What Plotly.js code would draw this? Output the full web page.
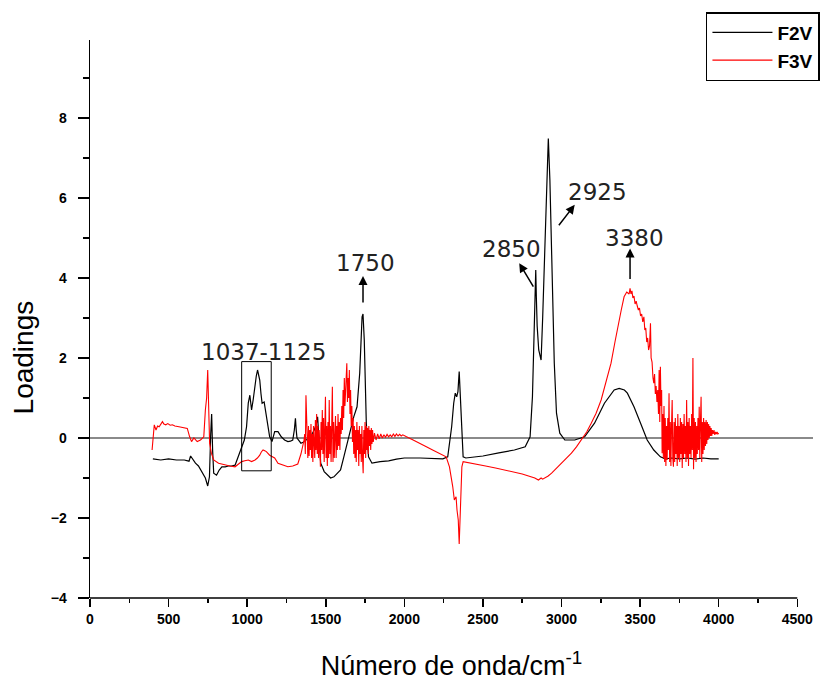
<!DOCTYPE html>
<html>
<head>
<meta charset="utf-8">
<script src="https://cdn.plot.ly/plotly-3.0.1.min.js"></script>
<style>html,body{margin:0;padding:0;background:#fff;}#chart{width:831px;height:683px;}</style>
</head>
<body>
<div id="chart"></div>
<script>
// F2V (black) wavenumber / loadings
const f2vX = [400,450,500,550,600,630,640,655,671,690,703,720,734,749,760,768,774,780,787,805,822,839,860,881,900,923,944,955,969,982,996,1007,1017,1028,1038,1049,1058,1066,1073,1080,1088,1095,1108,1115,1122,1132,1143,1158,1175,1196,1217,1238,1259,1275,1290,1300,1307,1312,1317,1342,1360,1374,1390,1405,1427,1440,1448,1455,1468,1490,1510,1531,1552,1573,1594,1615,1636,1657,1678,1699,1716,1731,1737,1745,1758,1772,1794,1846,1900,1950,2000,2100,2200,2245,2276,2287,2301,2314,2324,2333,2341,2349,2358,2366,2374,2391,2500,2601,2700,2769,2800,2815,2828,2836,2840,2845,2855,2870,2880,2891,2905,2916,2926,2937,2954,2968,2989,3021,3084,3147,3210,3273,3335,3367,3400,3419,3461,3503,3545,3587,3629,3660,3700,3750,3800,3850,3900,3950,4000];
const f2vY = [-0.52,-0.55,-0.52,-0.55,-0.55,-0.58,-0.45,-0.55,-0.63,-0.7,-0.8,-0.9,-1.0,-1.2,-0.97,0.1,0.6,-0.3,-0.88,-0.93,-0.8,-0.72,-0.72,-0.7,-0.7,-0.68,-0.47,-0.34,-0.22,-0.05,0.28,0.87,1.07,0.7,0.95,1.37,1.55,1.7,1.6,1.45,1.1,0.87,0.9,0.7,0.53,0.25,0.03,-0.09,0.16,0.16,0.03,-0.05,-0.09,-0.08,-0.05,0.2,0.49,0.2,0,-0.13,-0.1,-0.05,-0.02,0.05,0.2,0.35,0.53,0.1,-0.63,-0.84,-0.93,-1.0,-0.97,-0.88,-0.8,-0.47,-0.13,0.2,0.53,0.78,1.62,3.03,3.1,2.45,0.37,-0.47,-0.63,-0.59,-0.57,-0.53,-0.5,-0.5,-0.52,-0.52,-0.47,-0.13,0.28,0.87,1.12,1.03,1.16,1.66,0.95,-0.05,-0.47,-0.5,-0.45,-0.37,-0.3,-0.22,0.03,1.03,2.7,4.2,3.5,2.8,2.2,1.95,3.0,4.37,6.45,7.49,6.45,4.37,1.87,0.62,0.12,-0.05,-0.05,0.03,0.37,0.87,1.2,1.24,1.2,1.12,0.78,0.37,-0.05,-0.3,-0.47,-0.52,-0.5,-0.52,-0.5,-0.53,-0.5,-0.52,-0.52];

// F3V (red) wavenumber / loadings
const f3vX = [395,403,409,420,430,440,450,461,470,482,495,510,524,540,566,590,619,634,646,661,682,703,724,734,742,749,755,761,772,787,818,860,890,923,945,965,985,1007,1028,1050,1065,1080,1090,1101,1112,1122,1143,1175,1196,1230,1259,1290,1322,1342,1355,1362,
1366,1370,1374,1378,1382,1386,1390,1394,1398,1402,
1406,1410,1414,1418,1422,1426,1430,1434,1438,1442,
1446,1450,1454,1458,1462,1466,1470,1474,1478,1482,
1486,1490,1494,1498,1502,1506,1510,1514,1518,1522,
1526,1530,1534,1538,1542,1546,1550,1554,1558,1562,
1566,1570,1574,1578,1582,1586,1590,1594,1598,1602,
1606,1610,1614,1618,1622,1626,1630,1634,1638,1642,
1646,1650,1654,1658,1662,1666,1670,1674,1678,1682,
1686,1690,1694,1698,1702,1706,1710,1714,1718,1722,
1726,1730,1734,1738,1742,1746,1750,1754,1758,1762,
1766,1770,1774,1778,1782,1786,1790,1794,1798,1802,
1810,1820,1830,1840,1850,1860,1870,1880,1890,1900,1910,1920,1930,1940,1950,1960,1970,1980,1990,2000,2014,
2056,2100,2140,2180,2224,2266,2287,2300,2308,2318,2329,2335,2343,2349,2354,2360,2366,2374,2433,2517,2580,2643,2700,2750,2790,2811,2830,2853,2870,2880,2895,2915,2937,2970,3000,3030,3063,3095,3126,3160,3189,3220,3252,3285,3315,3340,3357,3380,3398,3415,3430,
3436,3442,3448,3454,3461,3468,3475,3482,3489,3496,3503,3510,3517,3524,3530,3536,3542,3548,3554,3560,3566,3570,3576,3582,3587,3592,3597,3602,3607,3612,3617,3621,3625,3629,3633,3637,
3640,3644,3648,3652,3656,3660,3664,3668,3672,3676,
3680,3684,3688,3692,3696,3700,3704,3708,3712,3716,
3720,3724,3728,3732,3736,3740,3744,3748,3752,3756,
3760,3764,3768,3772,3776,3780,3784,3788,3792,3796,
3800,3804,3808,3812,3816,3820,3824,3828,3832,3836,
3840,3844,3848,3852,3856,3860,3864,3868,3872,3876,
3880,3884,3888,3892,3896,3900,3904,3908,3912,3916,
3920,3924,3928,3932,3936,3940,3944,3948,3952,3956,
3960,3965,3970,3975,3980,3985,3990,3995,4000];
const f3vY = [-0.3,0.03,0.33,0.2,0.3,0.28,0.36,0.41,0.35,0.33,0.36,0.32,0.33,0.3,0.28,0.27,0.24,0.03,-0.09,0,-0.09,-0.05,0.03,0.7,1.0,1.7,0.95,-0.13,-0.38,-0.55,-0.63,-0.68,-0.7,-0.72,-0.65,-0.59,-0.57,-0.55,-0.59,-0.55,-0.5,-0.43,-0.35,-0.3,-0.32,-0.34,-0.43,-0.5,-0.63,-0.68,-0.72,-0.7,-0.65,-0.4,-0.2,-0.05,
0.1,-0.4,1.07,0.6,-0.3,-0.5,0.3,-0.45,0.2,-0.3,
0.35,-0.5,0.1,-0.6,0.3,-0.2,-0.5,0.45,-0.3,0.6,
-0.4,0.3,-0.5,0.2,-0.6,-0.72,0.4,-0.3,0.7,-0.4,
0.5,-0.6,0.2,1.03,-0.5,0.3,-0.7,0.4,-0.5,0.95,
-0.4,0.3,-0.6,0.5,1.28,-0.6,0.4,-0.5,0.2,0.55,
-0.5,0.3,-0.3,0.6,-0.2,0.4,-0.3,0.5,0.1,0.8,
0.2,1.2,0.5,1.5,0.8,1.3,1.75,1.87,0.9,1.5,
1.0,1.7,0.6,1.2,0.3,0.8,-0.1,0.5,-0.4,0.3,
-0.5,0.2,-0.6,0.4,-0.3,0.2,-0.7,0.3,-0.4,0.1,
-0.6,0.3,-0.5,-0.88,0.2,-0.4,0.4,-0.5,0.3,-0.3,
0.25,-0.4,0.3,-0.2,0.2,-0.3,0.25,-0.15,0.2,-0.1,
0.12,-0.05,0.1,-0.02,0.1,0.0,0.08,0.02,0.09,0.03,0.08,0.03,0.1,0.04,0.1,0.05,0.09,0.05,0.08,0.05,0.03,
-0.05,-0.13,-0.22,-0.3,-0.38,-0.47,-0.72,-1.0,-1.22,-1.55,-1.47,-1.8,-2.05,-2.65,-2.2,-1.4,-0.72,-0.59,-0.63,-0.7,-0.75,-0.8,-0.85,-0.9,-0.95,-0.97,-1.0,-1.05,-1.0,-1.03,-1.0,-0.95,-0.88,-0.75,-0.63,-0.5,-0.38,-0.22,-0.05,0.15,0.37,0.62,0.95,1.4,1.87,2.4,2.78,3.2,3.53,3.65,3.6,
3.74,3.6,3.68,3.5,3.55,3.35,3.42,3.3,3.2,3.25,3.05,3.1,2.9,3.03,2.7,2.75,2.4,2.5,2.2,2.3,2.87,2.0,1.9,1.5,1.37,1.6,1.1,1.3,0.9,1.2,0.6,1.7,0.4,1.78,0.8,1.2,
-0.38,0.6,-0.5,0.8,-0.6,0.5,-0.7,0.3,-0.55,0.5,
-0.3,1.12,-0.6,0.4,-0.7,0.3,0.95,-0.5,-0.72,0.4,
-0.6,0.5,-0.4,0.3,-0.7,0.6,-0.5,0.3,-0.6,0.5,
-0.4,0.4,-0.75,0.35,-0.5,0.6,-0.4,0.3,-0.6,0.95,
-0.5,0.4,-0.7,0.5,-0.4,0.3,-0.5,0.6,-0.3,2.0,
-0.78,0.5,-0.5,0.4,-0.6,0.3,-0.4,0.5,-0.3,0.78,
-0.5,0.4,1.03,-0.6,0.4,-0.4,0.5,-0.3,0.4,-0.2,
0.45,-0.15,0.4,-0.05,0.35,0.0,0.3,0.05,0.25,0.05,
0.2,0.1,0.2,0.08,0.15,0.1,0.15,0.1,0.12];

// Annotation labels
const peakLabels = ['1037-1125','1750','2850','2925','3380'];
const peakLabelX = [1105,1753,2681,3228,3467];
const peakLabelY = [2.15,4.38,4.72,6.16,5.0];
const arrowHeadX = [1737,2731,3084,3436];
const arrowHeadY = [4.05,4.37,5.83,4.74];
const arrowAx = [0,15,-17,0];
const arrowAy = [28,25,22,32];
const boxX = [965,1153];
const boxY = [-0.82,1.91];

const traces = [
  {x:f2vX, y:f2vY, type:'scatter', mode:'lines', name:'F2V', line:{color:'#000000', width:1.2}},
  {x:f3vX, y:f3vY, type:'scatter', mode:'lines', name:'F3V', line:{color:'#ff0000', width:1.1}}
];

const annotations = [];
for (let i=0;i<peakLabels.length;i++){
  annotations.push({x:peakLabelX[i], y:peakLabelY[i], xref:'x', yref:'y', text:peakLabels[i], showarrow:false,
    font:{family:'DejaVu Sans, sans-serif', size:23, color:'#222'}, xanchor:'center', yanchor:'middle'});
}
for (let i=0;i<arrowHeadX.length;i++){
  annotations.push({x:arrowHeadX[i], y:arrowHeadY[i], xref:'x', yref:'y', text:'', showarrow:true,
    ax:arrowAx[i], ay:arrowAy[i], arrowhead:2, arrowsize:1.2, arrowwidth:1.5, arrowcolor:'#000'});
}
annotations.push({xref:'paper', yref:'paper', x:-0.092, y:0.432, text:'Loadings', textangle:-90, showarrow:false,
  font:{family:'Liberation Sans, Arial, sans-serif', size:28, color:'#000'}, xanchor:'center', yanchor:'middle'});

const layout = {
  width:831, height:683,
  margin:{l:90, r:11, t:40, b:85},
  paper_bgcolor:'#fff', plot_bgcolor:'#fff',
  showlegend:true,
  legend:{x:1.0096, y:1.05, xanchor:'right', yanchor:'top', bordercolor:'#000', borderwidth:1.5, bgcolor:'#fff',
    font:{family:'Liberation Sans, Arial, sans-serif', size:19, weight:'bold', color:'#000'}, itemwidth:60},
  xaxis:{range:[0,4600], tickmode:'linear', tick0:0, dtick:500, ticks:'outside', ticklen:8, tickwidth:1.5, tickcolor:'#000',
    showgrid:false, zeroline:false, showline:false,
    minor:{ticks:'outside', dtick:250, ticklen:4, tickwidth:1.5, tickcolor:'#000'},
    tickfont:{family:'Liberation Sans, Arial, sans-serif', size:14, weight:'bold', color:'#000'},
    title:{text:'Número de onda/cm<sup>-1</sup>', font:{family:'Liberation Sans, Arial, sans-serif', size:27, color:'#000'}, standoff:30}},
  yaxis:{range:[-4,9.95], tickmode:'linear', tick0:0, dtick:2, ticks:'outside', ticklen:11, tickwidth:1.5, tickcolor:'#000',
    showgrid:false, showline:true, linecolor:'#000', linewidth:1.5,
    zeroline:true, zerolinecolor:'#8a8a8a', zerolinewidth:1.5,
    minor:{ticks:'outside', dtick:1, ticklen:6, tickwidth:1.5, tickcolor:'#000'},
    ticklabelstandoff:8,
    tickfont:{family:'Liberation Sans, Arial, sans-serif', size:14, weight:'bold', color:'#000'}},
  shapes:[
    {type:'line', xref:'x', yref:'paper', x0:0, x1:4500, y0:0, y1:0, line:{color:'#000', width:1.5}},
    {type:'rect', xref:'x', yref:'y', x0:boxX[0], x1:boxX[1], y0:boxY[0], y1:boxY[1], line:{color:'#000', width:1}}
  ],
  annotations:annotations
};

Plotly.newPlot('chart', traces, layout, {displayModeBar:false, staticPlot:true});
</script>
</body>
</html>
